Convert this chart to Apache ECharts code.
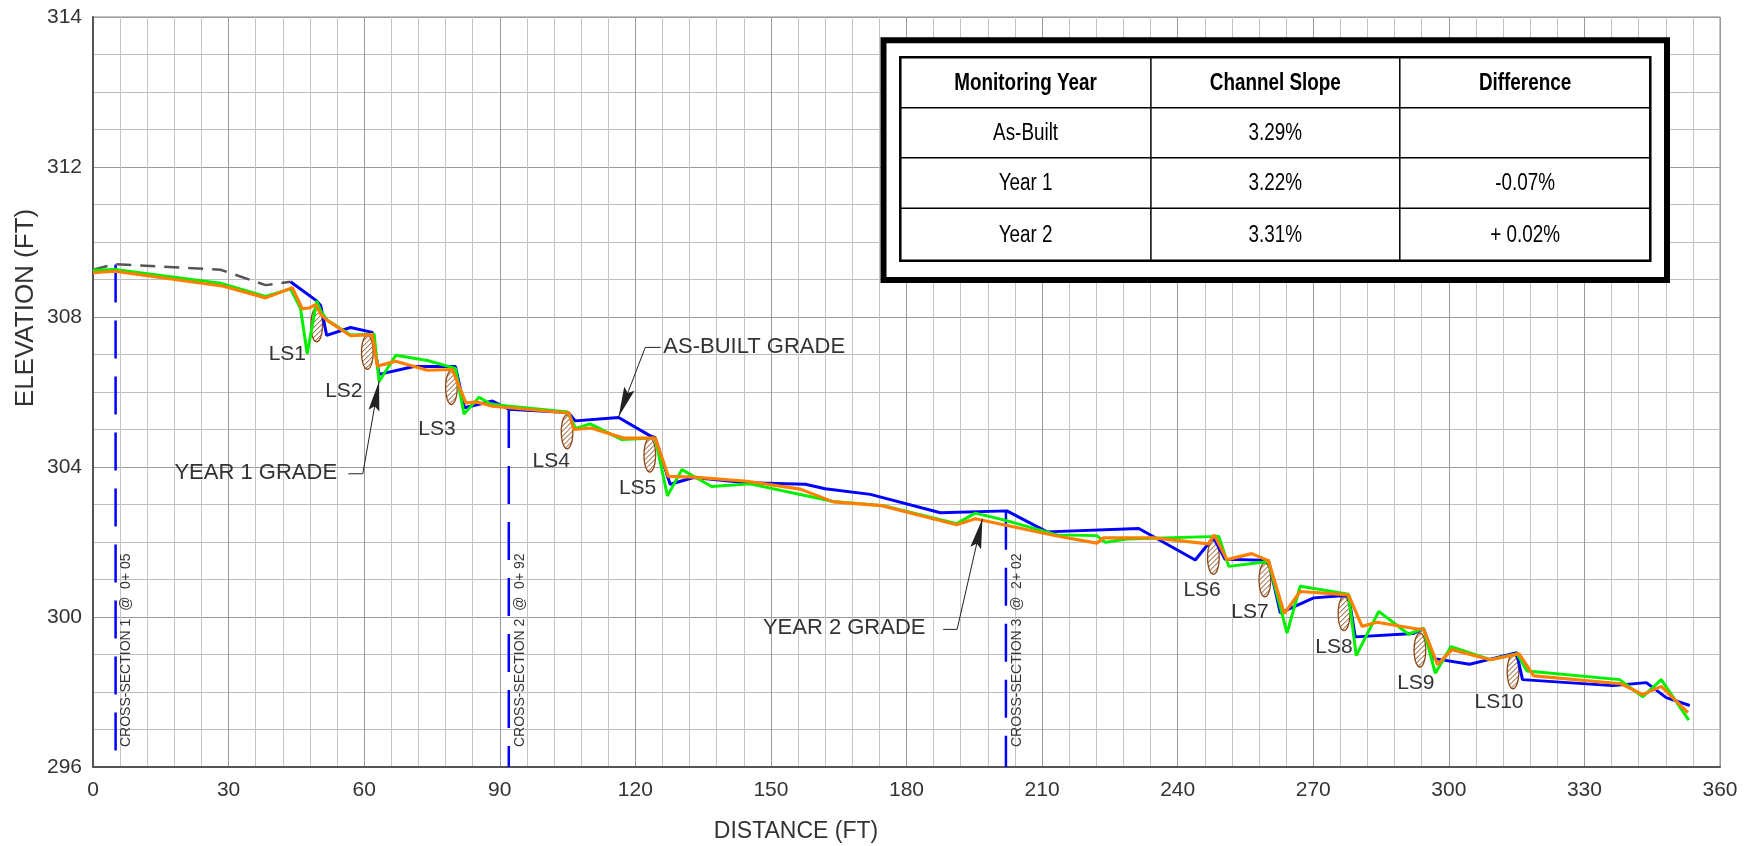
<!DOCTYPE html>
<html>
<head>
<meta charset="utf-8">
<script src="https://cdn.jsdelivr.net/npm/echarts@6/dist/echarts.min.js"></script>
<style>
html,body{margin:0;padding:0;background:#fff;}
#c{width:1752px;height:846px;}
</style>
</head>
<body>
<div id="c"></div>
<script>
// ---------------- DATA ----------------
const yTickLabels = ['296', '300', '304', '308', '312', '314'];

// dashed grey profile at the upstream end [distance ft, elevation ft]
const upstreamDashed = [[0, 309.26], [4.8, 309.41], [28.2, 309.26], [38.2, 308.85], [43.7, 308.94]];

// As-Built grade (blue)
const asBuilt = [
  [43.7, 308.94], [49.5, 308.43], [50.4, 308.3], [51.7, 307.51], [57.0, 307.72], [61.8, 307.59],
  [63.3, 306.47], [71.0, 306.68], [80.2, 306.68], [82.2, 305.58], [88.4, 305.76], [92.0, 305.54],
  [105.2, 305.45], [106.7, 305.23], [116.3, 305.32], [123.3, 304.83], [124.4, 304.78], [127.7, 303.54],
  [132.9, 303.72], [144.7, 303.58], [157.6, 303.54], [162.0, 303.42], [172.0, 303.27], [187.5, 302.78],
  [202.2, 302.83], [211.1, 302.27], [231.4, 302.36], [243.9, 301.52], [247.9, 302.12], [250.5, 301.54],
  [260.1, 301.51], [262.7, 300.11], [270.1, 300.51], [277.8, 300.58], [279.3, 299.47], [292.2, 299.56],
  [294.4, 299.69], [296.8, 298.89], [304.6, 298.74], [309.0, 298.87], [315.0, 299.05], [316.3, 298.33],
  [336.3, 298.17], [343.7, 298.25], [348.1, 297.85], [353.3, 297.64]
];

// Year 1 grade (green)
const year1 = [
  [0, 309.25], [4.8, 309.27], [28.2, 308.9], [38.2, 308.55], [43.7, 308.75], [45.9, 308.24],
  [47.4, 307.02], [49.5, 308.43], [50.4, 308.16], [51.8, 307.92], [57.0, 307.52], [62.2, 307.54],
  [63.3, 306.28], [67.0, 306.98], [74.0, 306.84], [80.2, 306.63], [82.1, 305.41], [85.4, 305.86],
  [88.0, 305.68], [91.7, 305.63], [105.0, 305.47], [106.8, 305.03], [110.0, 305.15], [117.0, 304.73],
  [124.4, 304.77], [127.1, 303.23], [130.3, 303.93], [136.9, 303.48], [145.4, 303.55], [163.8, 303.08],
  [174.9, 302.97], [191.1, 302.49], [195.2, 302.77], [201.5, 302.59], [213.3, 302.19], [222.1, 302.17],
  [224.0, 301.99], [228.8, 302.08], [249.1, 302.15], [251.3, 301.35], [260.1, 301.48], [264.2, 299.57],
  [267.1, 300.82], [277.8, 300.61], [279.5, 298.97], [284.5, 300.15], [291.1, 299.54], [294.4, 299.70],
  [297.0, 298.5], [300.5, 299.21], [309.2, 298.86], [315.1, 299.02], [317.3, 298.56], [337.8, 298.33],
  [342.9, 297.87], [347.0, 298.33], [353.1, 297.25]
];

// Year 2 grade (orange)
const year2 = [
  [0, 309.18], [4.8, 309.22], [28.9, 308.82], [38.2, 308.51], [44.1, 308.78], [46.3, 308.22],
  [47.8, 308.24], [49.3, 308.33], [50.4, 308.07], [51.8, 307.91], [57.0, 307.5], [61.8, 307.53],
  [62.9, 306.69], [67.0, 306.82], [74.0, 306.58], [79.5, 306.6], [82.5, 305.71], [85.0, 305.73],
  [88.4, 305.62], [105.3, 305.44], [106.4, 305.0], [110.2, 305.04], [117.4, 304.77], [124.4, 304.77],
  [127.3, 303.75], [132.9, 303.73], [144.7, 303.62], [156.5, 303.41], [163.8, 303.07], [174.5, 302.97],
  [191.1, 302.46], [195.2, 302.62], [213.3, 302.16], [222.1, 301.97], [223.6, 302.11], [234.7, 302.11],
  [246.8, 301.95], [248.1, 302.19], [250.9, 301.53], [256.4, 301.69], [260.1, 301.5], [263.6, 300.09],
  [267.1, 300.68], [277.8, 300.59], [280.8, 299.75], [284.1, 299.86], [293.0, 299.68], [294.4, 299.68],
  [297.5, 298.73], [300.7, 299.13], [309.2, 298.86], [315.5, 299.02], [318.8, 298.43], [338.1, 298.22],
  [342.9, 297.93], [347.0, 298.15], [352.9, 297.45]
];

// log sills (hatched ellipses) and their labels
const logSillPos = [[49.5, 307.79], [60.7, 307.06], [79.3, 306.12], [104.9, 304.94], [123.2, 304.32],
                    [247.9, 301.59], [259.3, 300.99], [276.8, 300.09], [293.6, 299.12], [314.2, 298.54]];
const logSillNames = ['LS1', 'LS2', 'LS3', 'LS4', 'LS5', 'LS6', 'LS7', 'LS8', 'LS9', 'LS10'];
const logSillLabelPos = [[43.0, 307.01], [55.5, 306.03], [76.1, 305.01], [101.4, 304.16], [120.5, 303.44],
                         [245.4, 300.72], [256.0, 300.13], [274.6, 299.2], [292.7, 298.24], [311.1, 297.73]];

// cross sections
const xsStation = [5, 92, 202];
const xsTopElev = [309.4, 305.52, 302.81];
const xsLabel = ['CROSS-SECTION 1  @  0+ 05', 'CROSS-SECTION 2  @  0+ 92', 'CROSS-SECTION 3  @  2+ 02'];

// callouts
const annText = ['AS-BUILT GRADE', 'YEAR 1 GRADE', 'YEAR 2 GRADE'];
const annTip = [[116.3, 305.34], [63.3, 306.29], [196.8, 302.62]];
const annElbow = [[122.2, 307.19], [59.7, 303.82], [191.2, 299.67]];
const annEnd = [[125.6, 307.19], [56.5, 303.82], [188.1, 299.67]];
const annTextPos = [[126.2, 307.2], [54.0, 303.83], [184.2, 299.72]];
const annAlign = ['left', 'right', 'right'];

// slope table
const tableHeader = ['Monitoring Year', 'Channel Slope', 'Difference'];
const tableYears = ['As-Built', 'Year 1', 'Year 2'];
const tableSlopes = ['3.29%', '3.22%', '3.31%'];
const tableDiffs = ['', '-0.07%', '+ 0.02%'];

// ---------------- CHART ----------------
const FONT = "'Liberation Sans', Arial, Helvetica, sans-serif";
const chart = echarts.init(document.getElementById('c'), null, {renderer: 'canvas'});

function ellipseItem(params, api) {
  const c = api.coord([api.value(0), api.value(1)]);
  const rx = 5.8, ry = 17;
  const pts = [];
  for (let i = 0; i < 48; i++) {
    const a = 2 * Math.PI * i / 48;
    pts.push([c[0] + rx * Math.cos(a), c[1] + ry * Math.sin(a)]);
  }
  const children = [{type: 'polygon', shape: {points: pts}, style: {fill: '#fff', stroke: '#8B4513', lineWidth: 1.3}}];
  const A = 1 / (rx * rx) + 1 / (ry * ry);
  for (let k = -(rx + ry) + 2.5; k < rx + ry; k += 5) {
    const B = -2 * k / (ry * ry), C = k * k / (ry * ry) - 1;
    const disc = B * B - 4 * A * C;
    if (disc <= 0) continue;
    const s = Math.sqrt(disc);
    const x1 = (-B - s) / (2 * A), x2 = (-B + s) / (2 * A);
    children.push({type: 'line', shape: {x1: c[0] + x1, y1: c[1] + k - x1, x2: c[0] + x2, y2: c[1] + k - x2},
      style: {stroke: '#8B4513', lineWidth: 1}});
  }
  return {type: 'group', children: children};
}

function xsItem(params, api) {
  const i = params.dataIndex;
  const pBot = api.coord([xsStation[i], 296]);
  const pTop = api.coord([xsStation[i], xsTopElev[i]]);
  return {type: 'group', children: [
    {type: 'line', shape: {x1: pTop[0], y1: pTop[1], x2: pBot[0], y2: pBot[1]},
      style: {stroke: '#0000ff', lineWidth: 2.5, lineDash: [38, 18]}},
    {type: 'text', x: pBot[0] + 11, y: pBot[1] - 20, rotation: Math.PI / 2,
      style: {text: xsLabel[i], font: '14px ' + FONT, fill: '#333', align: 'left', verticalAlign: 'middle'}}
  ]};
}

function lsLabelItem(params, api) {
  const i = params.dataIndex;
  const p = api.coord(logSillLabelPos[i]);
  return {type: 'text', x: p[0], y: p[1],
    style: {text: logSillNames[i], font: '21px ' + FONT, fill: '#333', align: 'center', verticalAlign: 'middle'}};
}

function annItem(params, api) {
  const i = params.dataIndex;
  const tip = api.coord(annTip[i]), elb = api.coord(annElbow[i]), end = api.coord(annEnd[i]), tp = api.coord(annTextPos[i]);
  const dx = elb[0] - tip[0], dy = elb[1] - tip[1];
  const L = Math.hypot(dx, dy), ux = dx / L, uy = dy / L;
  const len = 30, hw = 5.5;
  const bx = tip[0] + ux * len, by = tip[1] + uy * len;
  const tri = [[tip[0], tip[1]], [bx - uy * hw, by + ux * hw], [tip[0] + ux * len * 0.85, tip[1] + uy * len * 0.85], [bx + uy * hw, by - ux * hw]];
  return {type: 'group', children: [
    {type: 'polyline', shape: {points: [tip, elb, end]}, style: {stroke: '#222', lineWidth: 1, fill: null}},
    {type: 'polygon', shape: {points: tri}, style: {fill: '#222'}},
    {type: 'text', x: tp[0], y: tp[1],
      style: {text: annText[i], font: '22px ' + FONT, fill: '#333', align: annAlign[i], verticalAlign: 'middle'}}
  ]};
}

// table graphic (layout in pixels)
const T = {ox: 883.5, oy: 40.3, ow: 783.5, oh: 239.7, x0: 900.3, x1: 1150.9, x2: 1399.8, x3: 1650.3,
           rows: [57.3, 107.7, 157.7, 208.3, 260.7]};
const tableGraphics = [];
tableGraphics.push({type: 'rect', shape: {x: T.ox, y: T.oy, width: T.ow, height: T.oh},
  style: {fill: '#fff', stroke: '#000', lineWidth: 6}, z: 100});
tableGraphics.push({type: 'rect', shape: {x: T.x0, y: T.rows[0], width: T.x3 - T.x0, height: T.rows[4] - T.rows[0]},
  style: {fill: '#fff', stroke: '#000', lineWidth: 2.5}, z: 101});
[T.x1, T.x2].forEach(function (x) {
  tableGraphics.push({type: 'line', shape: {x1: x, y1: T.rows[0], x2: x, y2: T.rows[4]}, style: {stroke: '#000', lineWidth: 1.5}, z: 102});
});
[T.rows[1], T.rows[2], T.rows[3]].forEach(function (y) {
  tableGraphics.push({type: 'line', shape: {x1: T.x0, y1: y, x2: T.x3, y2: y}, style: {stroke: '#000', lineWidth: 1.5}, z: 102});
});
const colC = [(T.x0 + T.x1) / 2, (T.x1 + T.x2) / 2, (T.x2 + T.x3) / 2];
function cellText(txt, col, row, bold) {
  return {type: 'text', x: colC[col], y: (T.rows[row] + T.rows[row + 1]) / 2 + 1, scaleX: 0.82, z: 103,
    style: {text: txt, font: (bold ? 'bold ' : '') + '23px ' + FONT, fill: '#000', align: 'center', verticalAlign: 'middle'}};
}
tableHeader.forEach(function (t, c) { tableGraphics.push(cellText(t, c, 0, true)); });
tableYears.forEach(function (t, r) {
  tableGraphics.push(cellText(t, 0, r + 1, false));
  tableGraphics.push(cellText(tableSlopes[r], 1, r + 1, false));
  if (tableDiffs[r]) tableGraphics.push(cellText(tableDiffs[r], 2, r + 1, false));
});
// axis titles
tableGraphics.push({type: 'text', x: 796, y: 832, style: {text: 'DISTANCE (FT)', font: '23px ' + FONT, fill: '#333', align: 'center', verticalAlign: 'middle'}});
tableGraphics.push({type: 'text', x: 26, y: 308, rotation: Math.PI / 2,
  style: {text: 'ELEVATION (FT)', font: '26px ' + FONT, fill: '#333', align: 'center', verticalAlign: 'middle'}});

const option = {
  animation: false,
  backgroundColor: '#fff',
  grid: {left: 93, right: 32, top: 17, bottom: 79, show: true, borderColor: '#888', borderWidth: 1, containLabel: false},
  xAxis: {
    type: 'value', min: 0, max: 360, interval: 30,
    axisLine: {show: true, onZero: false, lineStyle: {color: '#555', width: 2}},
    axisTick: {show: false},
    axisLabel: {fontSize: 21, color: '#333', margin: 13, fontFamily: FONT},
    splitLine: {show: true, lineStyle: {color: '#9a9a9a', width: 1}},
    minorTick: {show: false, splitNumber: 5},
    minorSplitLine: {show: true, lineStyle: {color: '#c4c4c4', width: 1}}
  },
  yAxis: {
    type: 'value', min: 296, max: 316, interval: 4,
    axisLine: {show: true, onZero: false, lineStyle: {color: '#555', width: 2}},
    axisTick: {show: false},
    axisLabel: {fontSize: 21, color: '#333', margin: 11, fontFamily: FONT,
      formatter: function (v) { return yTickLabels[Math.round((v - 296) / 4)]; }},
    splitLine: {show: true, lineStyle: {color: '#9a9a9a', width: 1}},
    minorTick: {show: false, splitNumber: 4},
    minorSplitLine: {show: true, lineStyle: {color: '#bdbdbd', width: 1}}
  },
  series: [
    {type: 'custom', name: 'Cross sections', coordinateSystem: 'cartesian2d', renderItem: xsItem, z: 2,
      data: xsStation.map(function (d, i) { return [d, xsTopElev[i]]; })},
    {type: 'custom', name: 'Log sills', coordinateSystem: 'cartesian2d', renderItem: ellipseItem, z: 3, data: logSillPos},
    {type: 'line', name: 'Upstream', data: upstreamDashed, showSymbol: false, symbol: 'none', z: 4,
      lineStyle: {color: '#555', width: 2.5, type: [15, 9]}},
    {type: 'line', name: 'As-Built', data: asBuilt, showSymbol: false, symbol: 'none', z: 5,
      lineStyle: {color: '#0000ff', width: 3}},
    {type: 'line', name: 'Year 1', data: year1, showSymbol: false, symbol: 'none', z: 6,
      lineStyle: {color: '#00f000', width: 3}},
    {type: 'line', name: 'Year 2', data: year2, showSymbol: false, symbol: 'none', z: 7,
      lineStyle: {color: '#ff8000', width: 3.2}},
    {type: 'custom', name: 'LS labels', coordinateSystem: 'cartesian2d', renderItem: lsLabelItem, z: 8, data: logSillLabelPos},
    {type: 'custom', name: 'Callouts', coordinateSystem: 'cartesian2d', renderItem: annItem, z: 9, data: annTip}
  ],
  graphic: tableGraphics
};
chart.setOption(option);
</script>
</body>
</html>
